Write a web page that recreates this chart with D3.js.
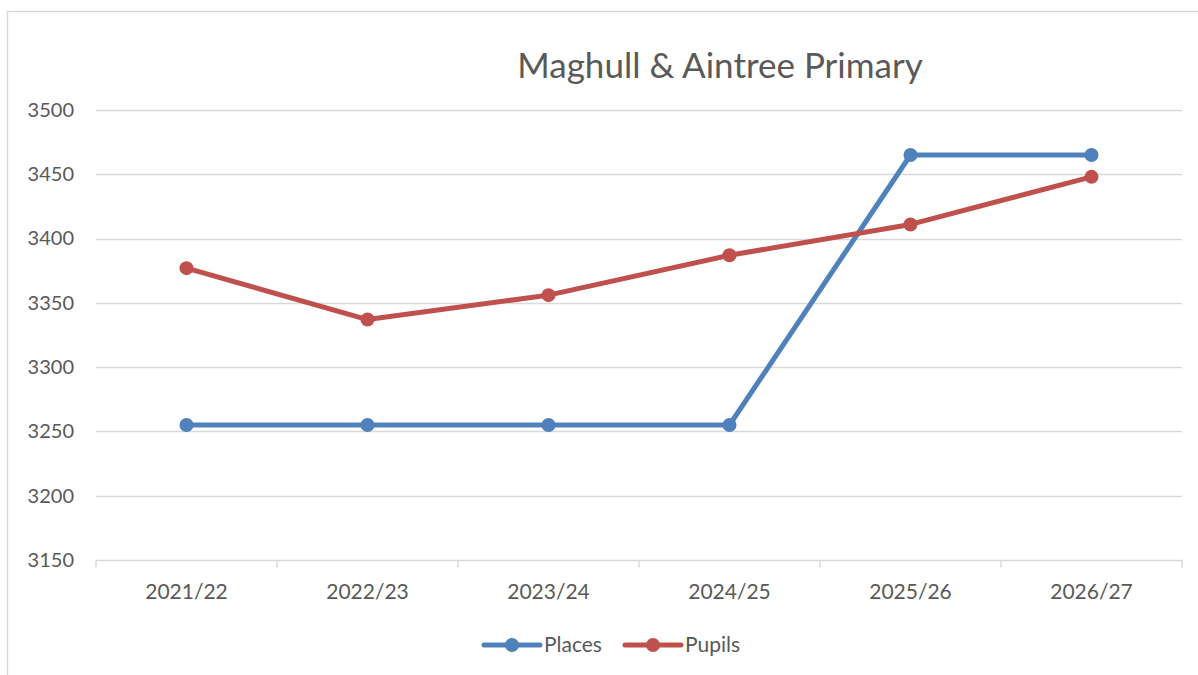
<!DOCTYPE html>
<html><head><meta charset="utf-8">
<script src="https://cdn.jsdelivr.net/npm/d3@7"></script>
<style>body{margin:0;background:#fff}svg{display:block}text{font-family:Lato,"Open Sans",sans-serif;fill:#595959}</style>
</head><body>
<script>
const categories = ["2021/22","2022/23","2023/24","2024/25","2025/26","2026/27"];
const places = [3255,3255,3255,3255,3465,3465];
const pupils = [3377,3337,3356,3387,3411,3448];
const yTicks = [3150,3200,3250,3300,3350,3400,3450,3500];
const seriesNames = ["Places","Pupils"];
const colors = ["#4f81bd","#c0504d"];
const title = "Maghull & Aintree Primary";

(function(){
const W=1198,H=675;
const svg=d3.select("body").append("svg").attr("width",W).attr("height",H);
svg.append("rect").attr("x",7.5).attr("y",11.5).attr("width",1200).attr("height",700).attr("fill","#fff").attr("stroke","#d9d9d9").attr("stroke-width",1.5);

const pL=96,pR=1182,pT=110,pB=560;
const x=d3.scaleBand().domain(categories).range([pL,pR]);
const y=d3.scaleLinear().domain([3150,3500]).range([pB,pT]);

svg.append("text").attr("x",720).attr("y",78).attr("text-anchor","middle").style("font-size","35px").text(title);

const grid=svg.append("g");
yTicks.forEach(t=>{
  if(t===3150) return;
  grid.append("line").attr("x1",pL).attr("x2",pR).attr("y1",Math.round(y(t))+0.5).attr("y2",Math.round(y(t))+0.5).attr("stroke","#d9d9d9").attr("stroke-width",1.5);
});
const yAxis=svg.append("g").attr("transform",`translate(${pL},0)`).call(d3.axisLeft(y).tickValues(yTicks).tickSize(0).tickPadding(22).tickFormat(d3.format("d")));
yAxis.select(".domain").remove();
yAxis.selectAll("text").style("font-size","20px").attr("fill","#595959");

const xAxis=svg.append("g").attr("transform",`translate(0,${Math.round(y(3150))+0.5})`);
xAxis.append("line").attr("x1",pL).attr("x2",pR).attr("stroke","#d9d9d9").attr("stroke-width",1.5);
const edges=categories.map(c=>x(c)).concat([pR]);
edges.forEach(e=>xAxis.append("line").attr("x1",e).attr("x2",e).attr("y1",0).attr("y2",7).attr("stroke","#d9d9d9").attr("stroke-width",1.5));
categories.forEach(c=>xAxis.append("text").attr("x",x(c)+x.bandwidth()/2).attr("y",38).attr("text-anchor","middle").style("font-size","21px").text(c));

const line=d3.line().x((d,i)=>x(categories[i])+x.bandwidth()/2).y(d=>y(d));
[places,pupils].forEach((s,k)=>{
  svg.append("path").datum(s).attr("d",line).attr("fill","none").attr("stroke",colors[k]).attr("stroke-width",5).attr("stroke-linejoin","round");
  svg.selectAll(null).data(s).enter().append("circle").attr("cx",(d,i)=>x(categories[i])+x.bandwidth()/2).attr("cy",d=>y(d)).attr("r",7).attr("fill",colors[k]);
});

const leg=svg.append("g");
const lx=[484,625];
seriesNames.forEach((n,k)=>{
  leg.append("line").attr("x1",lx[k]).attr("x2",lx[k]+56).attr("y1",645).attr("y2",645).attr("stroke",colors[k]).attr("stroke-width",5).attr("stroke-linecap","round");
  leg.append("circle").attr("cx",lx[k]+28).attr("cy",645).attr("r",7).attr("fill",colors[k]);
  leg.append("text").attr("x",lx[k]+60).attr("y",652).style("font-size","21px").text(n);
});
})();
</script>
</body></html>
